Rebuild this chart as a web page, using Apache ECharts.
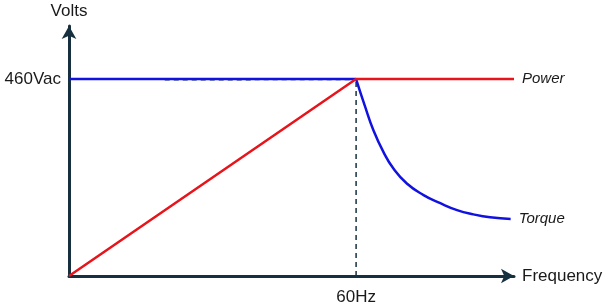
<!DOCTYPE html>
<html><head><meta charset="utf-8">
<script src="https://cdn.jsdelivr.net/npm/echarts@6/dist/echarts.min.js"></script>
<style>html,body{margin:0;padding:0;background:#fff}#c{width:609px;height:307px}</style>
</head><body><div id="c"></div>
<script>
const xTickValues = [60];
const xTickLabels = ['60Hz'];
const yTickValues = [460];
const yTickLabels = ['460Vac'];
const powerData = [[0, 0], [60, 460], [93, 460]];
const flatVoltsData = [[0, 460], [60, 460]];
const torqueData = [[60, 460], [61.9, 395], [63.6, 341], [65.7, 290], [67.8, 251], [70.6, 216], [74.1, 189], [77.6, 170], [81.1, 154], [84.5, 144], [88.0, 137], [92.3, 133]];
const guideV = [[60, 0], [60, 460]];
const guideH = [[20, 458.5], [60, 459]];
const axisColor = '#17303f';
const font = 'Liberation Sans';
const chart = echarts.init(document.getElementById('c'));
chart.setOption({
  animation: false,
  grid: {left: 69, right: 95, top: 26, bottom: 31},
  xAxis: {
    type: 'value', min: 0, max: 93,
    name: 'Frequency', nameLocation: 'end', nameGap: 8,
    nameTextStyle: {color: '#1a1a1a', fontSize: 17, fontFamily: font, verticalAlign: 'middle'},
    axisLine: {lineStyle: {color: axisColor, width: 3}, symbol: ['none', 'arrow'], symbolSize: [11, 13]},
    axisTick: {show: false}, splitLine: {show: false},
    axisLabel: {customValues: xTickValues, formatter: v => xTickLabels[xTickValues.indexOf(v)], color: '#1a1a1a', fontSize: 17, fontFamily: font, margin: 13}
  },
  yAxis: {
    type: 'value', min: 0, max: 584,
    name: 'Volts', nameLocation: 'end', nameGap: 6,
    nameTextStyle: {color: '#1a1a1a', fontSize: 17, fontFamily: font},
    axisLine: {lineStyle: {color: axisColor, width: 3}, symbol: ['none', 'arrow'], symbolSize: [11, 13]},
    axisTick: {show: false}, splitLine: {show: false},
    axisLabel: {customValues: yTickValues, formatter: v => yTickLabels[yTickValues.indexOf(v)], color: '#1a1a1a', fontSize: 17, fontFamily: font, margin: 8}
  },
  series: [
    {type: 'line', data: guideH, symbol: 'none', z: 1, lineStyle: {color: axisColor, width: 1.5, type: [5, 4]}},
    {type: 'line', data: guideV, symbol: 'none', z: 1, lineStyle: {color: axisColor, width: 1.5, type: [5, 4]}},
    {type: 'line', data: flatVoltsData, symbol: 'none', z: 2, lineStyle: {color: '#1212e0', width: 2.5}},
    {type: 'line', data: torqueData, symbol: 'none', smooth: 0.5, z: 2, lineStyle: {color: '#1212e0', width: 2.5},
      endLabel: {show: true, formatter: 'Torque', color: '#1a1a1a', fontSize: 15, fontStyle: 'italic', fontFamily: font, distance: 8}},
    {type: 'line', data: powerData, symbol: 'none', z: 3, lineStyle: {color: '#e8141b', width: 2.5},
      endLabel: {show: true, formatter: 'Power', color: '#1a1a1a', fontSize: 15, fontStyle: 'italic', fontFamily: font, distance: 8}}
  ]
});
</script></body></html>
